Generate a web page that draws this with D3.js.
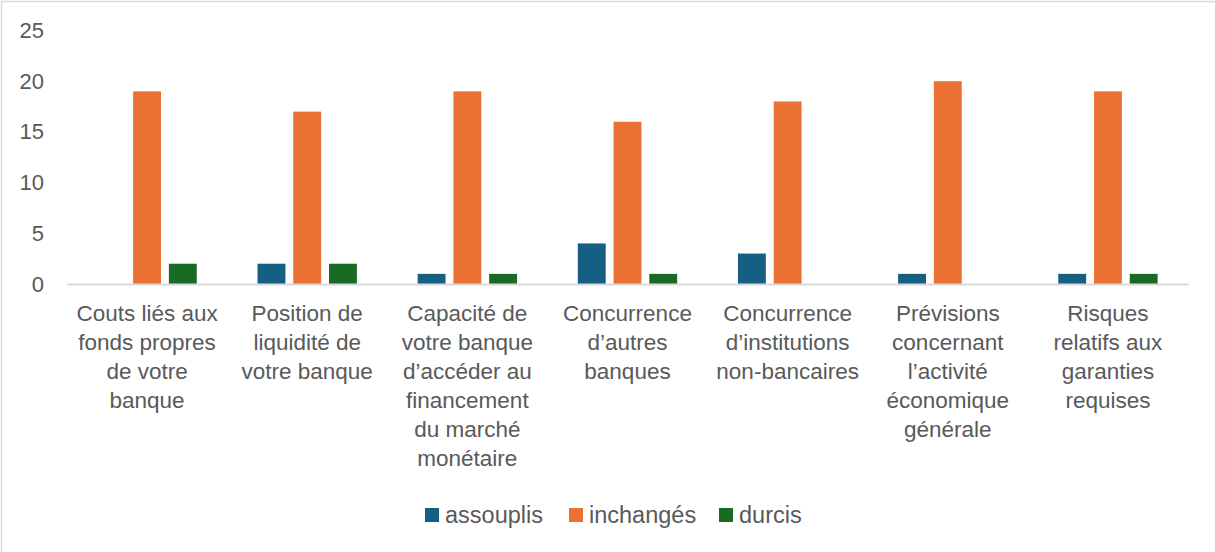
<!DOCTYPE html>
<html lang="fr">
<head>
<meta charset="UTF-8">
<title>Conditions de crédit</title>
<style>
  body { margin: 0; background: #fff; }
  svg text { font-family: "Liberation Sans", Arial, sans-serif; fill: #595959; }
</style>
</head>
<body>
<div id="graphique"></div>
<script src="https://d3js.org/d3.v7.min.js"></script>
<script>

// categories (line breaks as in the chart)
let categories = [
  ['Couts liés aux', 'fonds propres', 'de votre', 'banque'],
  ['Position de', 'liquidité de', 'votre banque'],
  ['Capacité de', 'votre banque', 'd’accéder au', 'financement', 'du marché', 'monétaire'],
  ['Concurrence', 'd’autres', 'banques'],
  ['Concurrence', 'd’institutions', 'non-bancaires'],
  ['Prévisions', 'concernant', 'l’activité', 'économique', 'générale'],
  ['Risques', 'relatifs aux', 'garanties', 'requises']
];

let seriesNames = ['assouplis', 'inchangés', 'durcis'];
let assouplis = [0, 2, 1, 4, 3, 1, 1];
let inchanges = [19, 17, 19, 16, 18, 20, 19];
let durcis    = [2, 2, 1, 1, 0, 0, 1];
let yTicks = [0, 5, 10, 15, 20, 25];

let colors = ['#156082', '#E97132', '#196B24'];

let W = 1215, H = 552;
let margin = { top: 30.5, left: 67, right: 27, bottom: 268 };
let fontSize = 22.5;

let svg = d3.select('#graphique')
            .append('svg')
            .attr('width', W)
            .attr('height', H);

// chart border (only top/left visible in the crop)
svg.append('rect')
   .attr('x', 1.5).attr('y', 1.5)
   .attr('width', W + 10).attr('height', H + 10)
   .attr('fill', '#fff')
   .attr('stroke', '#d9d9d9')
   .attr('stroke-width', 1.5);

let idx = d3.range(categories.length);
let data = idx.map(i => ({ i: i, values: [assouplis[i], inchanges[i], durcis[i]] }));

let x0 = d3.scaleBand()
           .domain(idx)
           .range([margin.left, W - margin.right])
           .padding(0);

let x1 = d3.scaleBand()
           .domain(d3.range(3))
           .range([0, x0.bandwidth()])
           .paddingInner(0.22)
           .paddingOuter(0.85);

let y = d3.scaleLinear()
          .domain([0, 25])
          .range([H - margin.bottom, margin.top]);

// Y axis labels (no line)
let axeY = d3.axisLeft(y).tickValues(yTicks).tickSize(0).tickPadding(0);
let gy = svg.append('g')
   .attr('transform', `translate(44, 0)`)
   .call(axeY);
gy.select('.domain').remove();
gy.selectAll('text')
  .style('font-size', '22px')
  .style('font-family', '"Liberation Sans", Arial, sans-serif')
  .attr('fill', '#595959');

// bars
let groups = svg.selectAll('.groupe')
   .data(data)
   .enter()
   .append('g')
   .attr('transform', d => `translate(${x0(d.i)}, 0)`);

groups.selectAll('rect')
   .data(d => d.values.map((v, k) => ({ k: k, v: v })).filter(e => e.v > 0))
   .enter()
   .append('rect')
   .attr('x', e => x1(e.k))
   .attr('width', x1.bandwidth())
   .attr('y', e => y(e.v))
   .attr('height', e => y(0) - y(e.v))
   .attr('fill', e => colors[e.k]);

// X axis line
let axeX = d3.axisBottom(x0).tickSize(0).tickFormat('');
let gx = svg.append('g')
   .attr('transform', `translate(0, ${y(0)})`)
   .call(axeX);
gx.select('.domain')
  .attr('stroke', '#d9d9d9')
  .attr('stroke-width', 2);

// category labels, multi-line
let lineH = 29;
svg.selectAll('.cat')
   .data(idx)
   .enter()
   .append('text')
   .attr('class', 'cat')
   .attr('text-anchor', 'middle')
   .style('font-size', fontSize + 'px')
   .selectAll('tspan')
   .data(i => categories[i].map(l => ({ i: i, l: l })))
   .enter()
   .append('tspan')
   .attr('x', d => x0(d.i) + x0.bandwidth() / 2)
   .attr('y', (d, j) => y(0) + 36.5 + j * lineH)
   .text(d => d.l);

// legend
let legendX = [425, 569, 719];
let leg = svg.selectAll('.leg')
   .data(seriesNames)
   .enter()
   .append('g')
   .attr('transform', (d, k) => `translate(${legendX[k]}, 508)`);
leg.append('rect')
   .attr('width', 14).attr('height', 14)
   .attr('fill', (d, k) => colors[k]);
leg.append('text')
   .attr('x', 20)
   .attr('y', 15)
   .style('font-size', '23.5px')
   .text(d => d);

</script>
</body>
</html>
